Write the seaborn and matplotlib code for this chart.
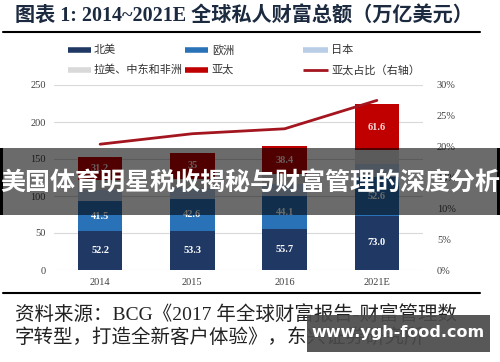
import numpy as np
import pandas as pd
import matplotlib
matplotlib.use('Agg')
import matplotlib.pyplot as plt
import seaborn as sns
from matplotlib.lines import Line2D
from matplotlib.patches import Rectangle

# data (万亿美元)
years = ['2014', '2015', '2016', '2021E']
north_america = [52.2, 53.3, 55.7, 73.0]
europe = [41.5, 42.6, 44.1, 52.6]
japan = [14.6, 14.5, 15.9, 17.6]
latam_mea = [13.2, 13.1, 13.5, 19.2]
asia_pacific = [31.2, 35, 38.4, 61.6]
apac_share = [20.4, 22.1, 22.9, 27.5]  # %, right axis

series_names = ['北美', '欧洲', '日本', '拉美、中东和非洲', '亚太']
colors = ['#203864', '#2a72b8', '#b9cde6', '#d9d9d9', '#c00000']
line_name = '亚太占比（右轴）'
line_color = '#a3151f'
left_ticks = [0, 50, 100, 150, 200, 250]
right_ticks = [0, 5, 10, 15, 20, 25, 30]

title = '图表 1: 2014~2021E 全球私人财富总额（万亿美元）'
source_1 = '资料来源：BCG《2017 年全球财富报告-财富管理数'
source_2 = '字转型，打造全新客户体验》，东兴证券研究所'
banner = '美国体育明星税收揭秘与财富管理的深度分析'
watermark = 'www.ygh-food.com'

W, H = 500, 362


def fx(px):
    return px / W


def fy(py):
    return 1 - py / H


df = pd.DataFrame({'年份': years, '北美': north_america, '欧洲': europe,
                   '日本': japan, '拉美、中东和非洲': latam_mea, '亚太': asia_pacific})
cum = df[series_names].cumsum(axis=1)

sns.set_style('white')
serif = ['Liberation Serif', 'Noto Sans CJK SC']
cjk = ['Noto Sans CJK SC', 'DejaVu Sans']
plt.rcParams['font.family'] = cjk

fig = plt.figure(figsize=(W / 100, H / 100), dpi=100)
ax = fig.add_axes([fx(54), fy(270), (423 - 54) / W, (270 - 85) / H])

# stacked bars: draw cumulative totals from the top segment down
for i in range(len(series_names) - 1, -1, -1):
    name = series_names[i]
    sns.barplot(x=df['年份'], y=cum[name], color=colors[i], saturation=1,
                width=0.48, linewidth=0, ax=ax, zorder=2)

# segment labels
for name, vals, tc in [('北美', north_america, 'white'), ('欧洲', europe, 'white'),
                       ('亚太', asia_pacific, '#f6dede')]:
    tops = cum[name].values
    for j, v in enumerate(vals):
        ax.text(j, tops[j] - v / 2, str(v), ha='center', va='center',
                fontsize=7.5, fontweight='bold', color=tc, family=serif, zorder=3)

ax.set_xlim(-0.5, 3.5)
ax.set_ylim(0, 250)
ax.set_yticks(left_ticks)
ax.set_xlabel('')
ax.set_ylabel('')
ax.yaxis.grid(True, color='#d9d9d9', linewidth=0.8)
ax.set_axisbelow(True)
for s in ax.spines.values():
    s.set_visible(False)
ax.tick_params(length=0, labelsize=7.5, labelcolor='#404040', pad=6)
for lab in ax.get_xticklabels() + ax.get_yticklabels():
    lab.set_family(serif)

ax2 = ax.twinx()
sns.lineplot(x=np.arange(len(years)), y=apac_share, color=line_color,
             linewidth=2, ax=ax2, zorder=4)
ax2.set_ylim(0, 30)
ax2.set_yticks(right_ticks)
ax2.set_yticklabels([f'{t}%' for t in right_ticks])
ax2.set_xlim(-0.5, 3.5)
ax2.set_ylabel('')
for s in ax2.spines.values():
    s.set_visible(False)
ax2.tick_params(length=0, labelsize=7.5, labelcolor='#404040', pad=10)
for lab in ax2.get_yticklabels():
    lab.set_family(serif)

# legend, drawn by hand to match the 3-column layout
legend_items = [
    (series_names[0], colors[0], 4, 68, 91, 94, 50),
    (series_names[1], colors[1], 4, 185, 208, 212, 50),
    (series_names[2], colors[2], 4, 303, 328, 331, 50),
    (series_names[3], colors[3], 4, 68, 91, 94, 70),
    (series_names[4], colors[4], 4, 185, 208, 212, 70),
    (line_name, line_color, 2, 303, 328, 331, 70),
]
for label, c, lw, x0, x1, xt, y in legend_items:
    fig.add_artist(Line2D([fx(x0), fx(x1)], [fy(y), fy(y)], color=c, linewidth=lw,
                          solid_capstyle='butt'))
    fig.text(fx(xt), fy(y), label, fontsize=8, color='#333333', va='center', ha='left')

# title and source
fig.text(fx(15), fy(16), title, fontsize=14.5, fontweight='bold', color='#1c2a40',
         family=serif, va='center', ha='left')
fig.add_artist(Line2D([fx(3), fx(480)], [fy(32), fy(32)], color='black', linewidth=1.5))
fig.add_artist(Line2D([fx(3), fx(480)], [fy(293), fy(293)], color='black', linewidth=1.5))
fig.text(fx(15), fy(315), source_1, fontsize=14, color='#222222', family=serif,
         va='center', ha='left')
fig.text(fx(15), fy(338), source_2, fontsize=14, color='#222222', family=serif,
         va='center', ha='left')

# overlay banner
fig.add_artist(Rectangle((0, fy(215)), 1, (215 - 148) / H, transform=fig.transFigure,
                         facecolor='black', alpha=0.58, linewidth=0, zorder=10))
for xe in (0, 497):
    fig.add_artist(Rectangle((fx(xe), fy(215)), 3 / W, (215 - 148) / H,
                             transform=fig.transFigure, facecolor='black',
                             linewidth=0, zorder=10))
fig.text(0.5, fy(183), banner, fontsize=18, fontweight='bold', color='white',
         ha='center', va='center', zorder=11)

# watermark
fig.add_artist(Rectangle((fx(307), fy(352)), (490 - 307) / W, (352 - 315) / H,
                         transform=fig.transFigure, facecolor='#4a4a4a', alpha=0.92,
                         linewidth=0, zorder=10))
fig.text(fx(398), fy(333), watermark, fontsize=11.5, fontweight='bold', color='white',
         family='DejaVu Sans', ha='center', va='center', zorder=11)

fig.savefig('out.png', dpi=100)
